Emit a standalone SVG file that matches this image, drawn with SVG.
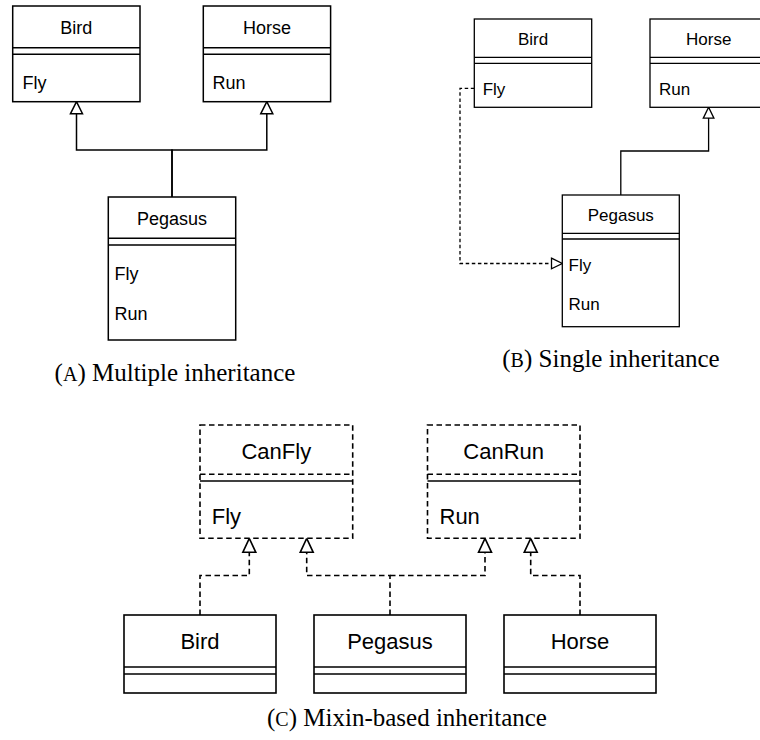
<svg xmlns="http://www.w3.org/2000/svg" width="760" height="740" viewBox="0 0 760 740">
  <style>
    .box { fill: #fff; stroke: #000; }
    .a { stroke-width: 1.5; }
    .b { stroke-width: 1.3; }
    .c { stroke-width: 1.6; }
    .dash { stroke-dasharray: 5.5 3.5; }
    .sep { fill: none; stroke: #000; }
    .lbl { font-family: "Liberation Sans", Arial, Helvetica, sans-serif; fill: #000; }
    .la { font-size: 18px; }
    .lb { font-size: 17px; }
    .lc { font-size: 22px; }
    .mid { text-anchor: middle; }
    .conn { fill: none; stroke: #000; }
    .cap { font-family: "Liberation Serif", "DejaVu Serif", serif; font-size: 25px; fill: #000; text-anchor: middle; }
    .sc { font-size: 20px; }
    .head { fill: #fff; stroke: #000; stroke-linejoin: miter; stroke-dasharray: none; }
  </style>
  <defs>
    <!-- hollow generalization heads, one per sub-figure scale -->
    <marker id="genA" markerUnits="userSpaceOnUse" orient="auto" refX="12" refY="0" markerWidth="14" markerHeight="14" overflow="visible">
      <path class="head" stroke-width="1.5" d="M0,-6 L12,0 L0,6 Z"/>
    </marker>
    <marker id="genB" markerUnits="userSpaceOnUse" orient="auto" refX="10.8" refY="0" markerWidth="12" markerHeight="12" overflow="visible">
      <path class="head" stroke-width="1.3" d="M0,-5.3 L10.8,0 L0,5.3 Z"/>
    </marker>
    <marker id="genC" markerUnits="userSpaceOnUse" orient="auto" refX="14" refY="0" markerWidth="16" markerHeight="16" overflow="visible">
      <path class="head" stroke-width="1.6" d="M0,-6.5 L14,0 L0,6.5 Z"/>
    </marker>
  </defs>

  <!-- connectors -->
  <g id="connectors">
    <!-- (A) multiple inheritance -->
    <path class="conn a" d="M172,197 V150 H76.5 V101.7" marker-end="url(#genA)"/>
    <path class="conn a" d="M172,197 V150 H266.8 V101.7" marker-end="url(#genA)"/>
    <!-- (B) single inheritance plus delegated Fly -->
    <path class="conn b" d="M620.8,195 V151 H708.6 V107.3" marker-end="url(#genB)"/>
    <path class="conn b" stroke-dasharray="3.5 2.6" d="M474.3,88.3 H460 V263.5 H562.3" marker-end="url(#genB)"/>
    <!-- (C) mixins -->
    <path class="conn c dash" d="M200,615 V575.5 H249.3 V538.3" marker-end="url(#genC)"/>
    <path class="conn c dash" d="M390,615 V575.5 H306.7 V538.3" marker-end="url(#genC)"/>
    <path class="conn c dash" d="M390,575.5 H485 V538.3" marker-end="url(#genC)"/>
    <path class="conn c dash" d="M580,615 V575.5 H530.7 V538.3" marker-end="url(#genC)"/>
  </g>

  <!-- (A) -->
  <g id="a-bird">
    <rect class="box a" x="12.7" y="6" width="127.3" height="95.7"/>
    <path class="sep a" d="M12.7,47.7 H140 M12.7,54.3 H140"/>
    <text class="lbl la mid" x="76.3" y="34">Bird</text>
    <text class="lbl la" x="22.5" y="89">Fly</text>
  </g>
  <g id="a-horse">
    <rect class="box a" x="203.3" y="6" width="127.3" height="95.7"/>
    <path class="sep a" d="M203.3,47.7 H330.6 M203.3,54.3 H330.6"/>
    <text class="lbl la mid" x="267" y="34">Horse</text>
    <text class="lbl la" x="212.5" y="89">Run</text>
  </g>
  <g id="a-pegasus">
    <rect class="box a" x="108.3" y="197" width="127.4" height="143"/>
    <path class="sep a" d="M108.3,238.3 H235.7 M108.3,245 H235.7"/>
    <text class="lbl la mid" x="172" y="225">Pegasus</text>
    <text class="lbl la" x="114.5" y="280">Fly</text>
    <text class="lbl la" x="114.5" y="320">Run</text>
  </g>
  <text class="cap" x="175" y="381">(<tspan class="sc">A</tspan>) Multiple inheritance</text>

  <!-- (B) -->
  <g id="b-bird">
    <rect class="box b" x="474.3" y="19" width="117.4" height="88.3"/>
    <path class="sep b" d="M474.3,57.3 H591.7 M474.3,63.3 H591.7"/>
    <text class="lbl lb mid" x="533" y="45">Bird</text>
    <text class="lbl lb" x="482.7" y="95">Fly</text>
  </g>
  <g id="b-horse">
    <rect class="box b" x="650" y="19" width="117.4" height="88.3"/>
    <path class="sep b" d="M650,57.3 H767.4 M650,63.3 H767.4"/>
    <text class="lbl lb mid" x="708.7" y="45">Horse</text>
    <text class="lbl lb" x="659" y="95">Run</text>
  </g>
  <g id="b-pegasus">
    <rect class="box b" x="562.3" y="195" width="117" height="131.7"/>
    <path class="sep b" d="M562.3,233.3 H679.3 M562.3,239 H679.3"/>
    <text class="lbl lb mid" x="620.8" y="220.7">Pegasus</text>
    <text class="lbl lb" x="568.5" y="270.5">Fly</text>
    <text class="lbl lb" x="568.5" y="309.5">Run</text>
  </g>
  <text class="cap" x="611" y="367">(<tspan class="sc">B</tspan>) Single inheritance</text>

  <!-- (C) -->
  <g id="c-canfly">
    <rect class="box c dash" x="200" y="425" width="152.7" height="113.3"/>
    <path class="sep c dash" d="M200,474.3 H352.7"/>
    <path class="sep c" d="M200,481 H352.7"/>
    <text class="lbl lc mid" x="276.3" y="459">CanFly</text>
    <text class="lbl lc" x="211.7" y="524">Fly</text>
  </g>
  <g id="c-canrun">
    <rect class="box c dash" x="427.5" y="425" width="152.5" height="113.3"/>
    <path class="sep c dash" d="M427.5,474.3 H580"/>
    <path class="sep c" d="M427.5,481 H580"/>
    <text class="lbl lc mid" x="503.7" y="459">CanRun</text>
    <text class="lbl lc" x="439.5" y="524">Run</text>
  </g>
  <g id="c-bird">
    <rect class="box c" x="124" y="615" width="152" height="78"/>
    <path class="sep c" d="M124,667 H276 M124,674 H276"/>
    <text class="lbl lc mid" x="200" y="648.5">Bird</text>
  </g>
  <g id="c-pegasus">
    <rect class="box c" x="314" y="615" width="152" height="78"/>
    <path class="sep c" d="M314,667 H466 M314,674 H466"/>
    <text class="lbl lc mid" x="390" y="648.5">Pegasus</text>
  </g>
  <g id="c-horse">
    <rect class="box c" x="504" y="615" width="152" height="78"/>
    <path class="sep c" d="M504,667 H656 M504,674 H656"/>
    <text class="lbl lc mid" x="580" y="648.5">Horse</text>
  </g>
  <text class="cap" x="407" y="726">(<tspan class="sc">C</tspan>) Mixin-based inheritance</text>
</svg>
